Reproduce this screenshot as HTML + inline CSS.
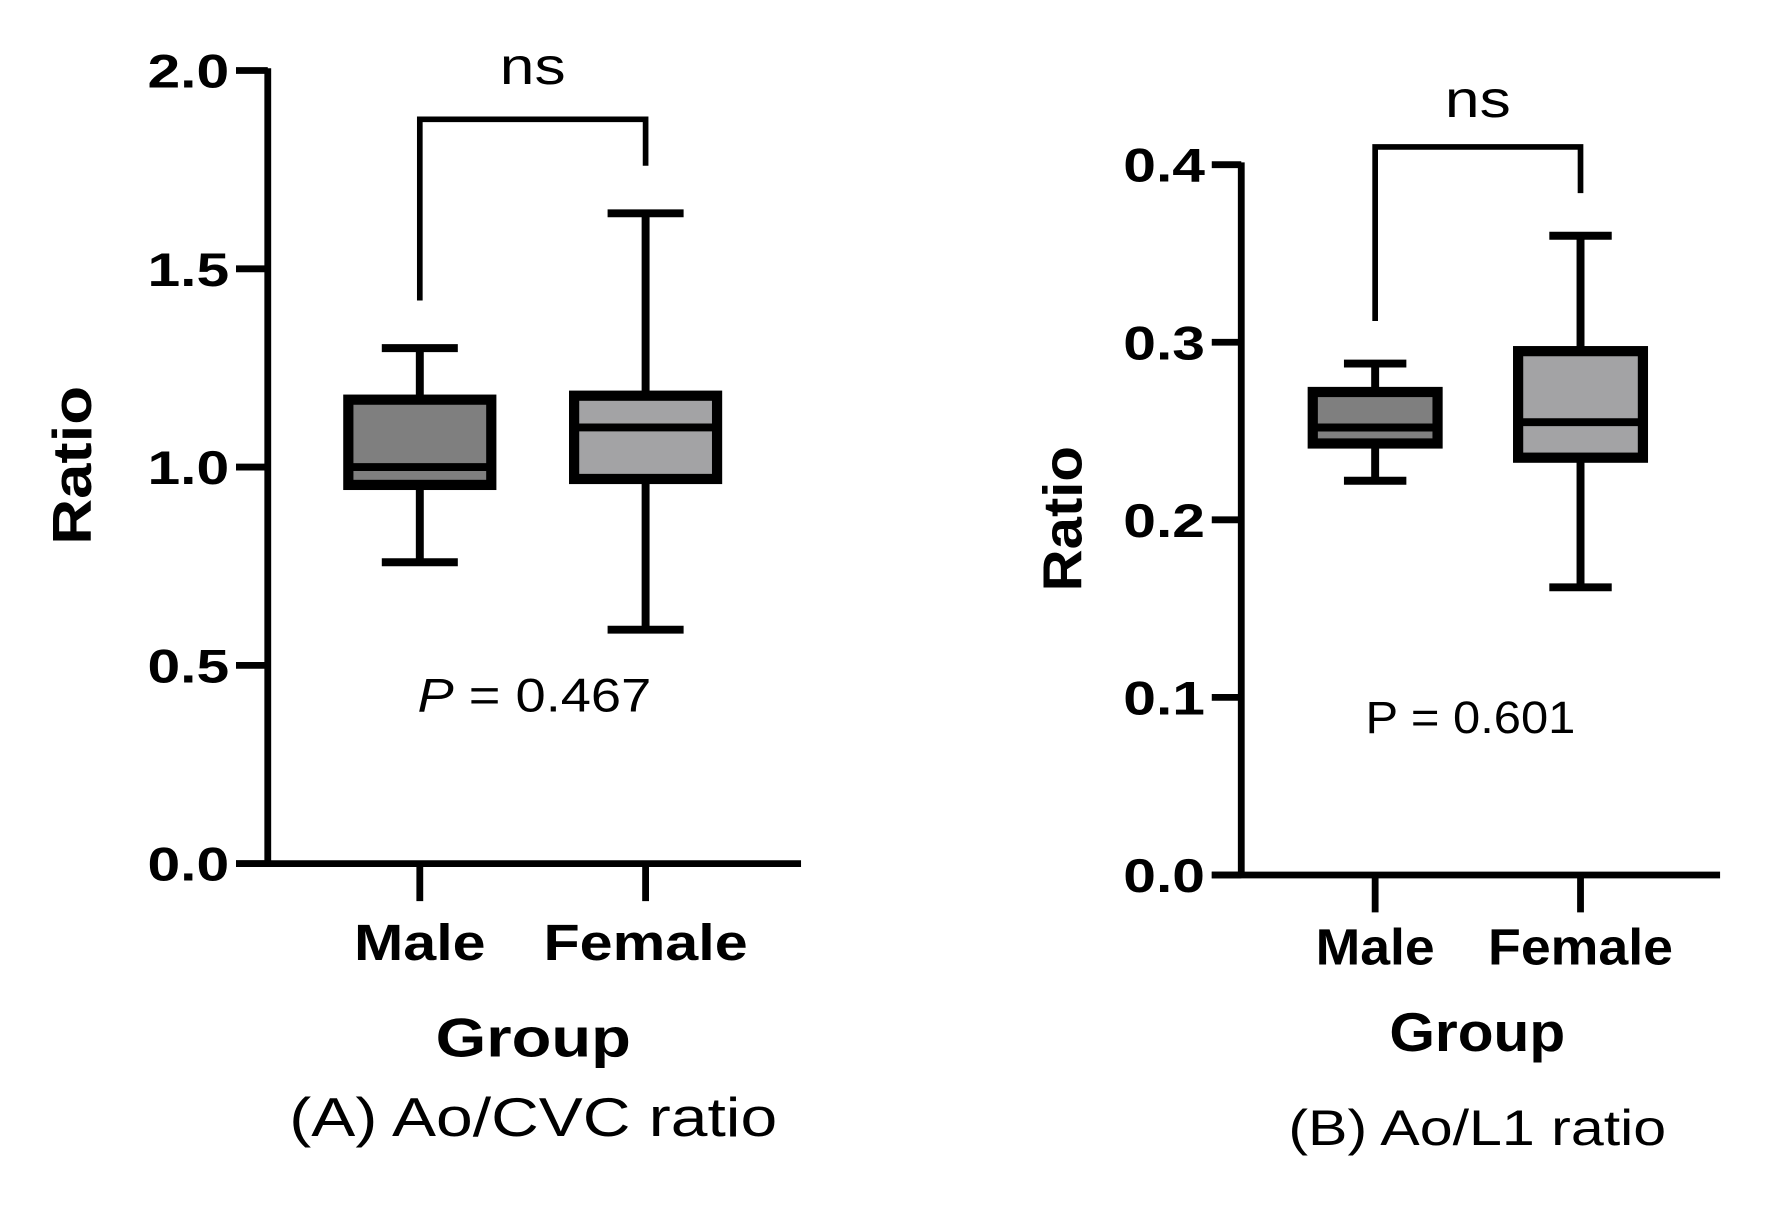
<!DOCTYPE html>
<html><head><meta charset="utf-8"><style>
html,body{margin:0;padding:0;background:#fff;}
svg{display:block;font-family:"Liberation Sans",Arial,sans-serif;}
</style></head><body>
<svg id="chart" width="1770" height="1211" viewBox="0 0 1560 1067" xmlns="http://www.w3.org/2000/svg">
<rect width="1560" height="1067" fill="#fff"/>
</svg>
<script>
// Panel A data
const groupsA = ["Male", "Female"];
const minA = [0.76, 0.59];
const q1A = [0.955, 0.97];
const medA = [1.0, 1.10];
const q3A = [1.17, 1.18];
const maxA = [1.30, 1.64];
const ticksA = [0.0, 0.5, 1.0, 1.5, 2.0];
const tickLabelsA = ["0.0", "0.5", "1.0", "1.5", "2.0"];
const bracketA = [1.42, 1.877, 1.76];
// Panel B data
const groupsB = ["Male", "Female"];
const minB = [0.222, 0.162];
const q1B = [0.243, 0.235];
const medB = [0.252, 0.255];
const q3B = [0.272, 0.295];
const maxB = [0.288, 0.360];
const ticksB = [0.0, 0.1, 0.2, 0.3, 0.4];
const tickLabelsB = ["0.0", "0.1", "0.2", "0.3", "0.4"];
const bracketB = [0.312, 0.41, 0.384];
const fills = ["#7f7f7f", "#a3a3a5"];

const svg = document.getElementById('chart');
const NS = "http://www.w3.org/2000/svg";
function mk(tag, attrs, name, parent) {
  const e = document.createElementNS(NS, tag);
  for (const k in attrs) e.setAttribute(k, attrs[k]);
  
  
  (parent || svg).appendChild(e);
  return e;
}
function txt(x, y, s, size, weight, name, anchor, extra, len) {
  const a = Object.assign({x: x, y: y, 'font-size': size, 'font-weight': weight, 'text-anchor': anchor || 'middle', fill: '#000'}, extra || {});
  if (len) { a.textLength = len; a.lengthAdjust = 'spacingAndGlyphs'; }
  const t = mk('text', a, name);
  t.textContent = s;
  return t;
}

function panel(p) {
  const g = mk('g', {}, p.id);
  const y = v => p.y0 - (v / p.ymax) * (p.y0 - p.yTop);
  const lw = 6;
  mk('line', {x1: p.ax, y1: y(p.ymax) - 2, x2: p.ax, y2: p.y0 + 2, stroke: '#000', 'stroke-width': lw}, 'y-axis-line', g);
  mk('line', {x1: p.tickL, y1: p.y0, x2: p.axEnd, y2: p.y0, stroke: '#000', 'stroke-width': lw}, 'x-axis-line', g);
  p.ticks.forEach((t, i) => {
    mk('line', {x1: p.tickL, y1: y(t), x2: p.ax, y2: y(t), stroke: '#000', 'stroke-width': lw}, 'y-tick', g);
    txt(p.tickL - 6, y(t) + 15, p.tickLabels[i], 42, 'bold', 'y-tick-label', 'end', null, 72);
  });
  p.groups.forEach((name, i) => {
    const cx = p.xs[i];
    mk('line', {x1: cx, y1: p.y0, x2: cx, y2: p.y0 + 33, stroke: '#000', 'stroke-width': lw}, 'x-tick', g);
    txt(cx, p.labelY, name, 45, 'bold', 'x-tick-label', 'middle', null, p.labelLen[i]);
    const bw = p.bw, cw = p.cw;
    mk('line', {x1: cx, y1: y(p.max[i]), x2: cx, y2: y(p.min[i]), stroke: '#000', 'stroke-width': 7}, 'whisker-' + name.toLowerCase(), g);
    mk('line', {x1: cx - cw / 2, y1: y(p.max[i]), x2: cx + cw / 2, y2: y(p.max[i]), stroke: '#000', 'stroke-width': 7}, 'whisker-cap-max', g);
    mk('line', {x1: cx - cw / 2, y1: y(p.min[i]), x2: cx + cw / 2, y2: y(p.min[i]), stroke: '#000', 'stroke-width': 7}, 'whisker-cap-min', g);
    mk('rect', {x: cx - bw / 2, y: y(p.q3[i]), width: bw, height: y(p.q1[i]) - y(p.q3[i]), fill: fills[i], stroke: '#000', 'stroke-width': 9}, 'box-' + name.toLowerCase(), g);
    mk('line', {x1: cx - bw / 2, y1: y(p.med[i]), x2: cx + bw / 2, y2: y(p.med[i]), stroke: '#000', 'stroke-width': 7}, 'median-' + name.toLowerCase(), g);
  });
  const b = p.bracket;
  mk('polyline', {points: `${p.xs[0]},${y(b[0])} ${p.xs[0]},${y(b[1])} ${p.xs[1]},${y(b[1])} ${p.xs[1]},${y(b[2])}`, fill: 'none', stroke: '#000', 'stroke-width': 5}, 'significance-bracket', g);
  txt((p.xs[0] + p.xs[1]) / 2, p.nsY, 'ns', 46, 'normal', 'significance-label', 'middle', null, 58);
  txt(p.ratioX, p.ratioY, 'Ratio', 48, 'bold', 'y-axis-title', 'middle', {transform: `rotate(-90 ${p.ratioX} ${p.ratioY})`}, p.ratioLen);
  txt(p.groupX, p.groupY, 'Group', 48, 'bold', 'x-axis-title', 'middle', null, p.groupLen);
  txt(p.groupX, p.capY, p.caption, p.capSize, 'normal', 'panel-caption', 'middle', null, p.capLen);
  return y;
}

panel({id: 'panel-a', groups: groupsA, min: minA, q1: q1A, med: medA, q3: q3A, max: maxA, ticks: ticksA, tickLabels: tickLabelsA, bracket: bracketA,
  ymax: 2.0, y0: 761, yTop: 62, ax: 236, axEnd: 706, tickL: 208, xs: [370, 569], bw: 126, cw: 67, labelY: 846, labelLen: [116, 180],
  nsY: 74, ratioX: 80, ratioY: 410, ratioLen: 140, groupX: 470, groupY: 931, groupLen: 172, capY: 1001, capSize: 48, capLen: 430, caption: '(A) Ao/CVC ratio'});
const pa = txt(471, 627, '', 42, 'normal', 'p-value-a', 'middle', null, 206);
const it = document.createElementNS(NS, 'tspan'); it.setAttribute('font-style', 'italic'); it.textContent = 'P'; pa.appendChild(it);
pa.appendChild(document.createTextNode(' = 0.467'));

panel({id: 'panel-b', groups: groupsB, min: minB, q1: q1B, med: medB, q3: q3B, max: maxB, ticks: ticksB, tickLabels: tickLabelsB, bracket: bracketB,
  ymax: 0.4, y0: 771, yTop: 145, ax: 1094, axEnd: 1516, tickL: 1068, xs: [1212, 1393], bw: 110, cw: 55, labelY: 850, labelLen: [105, 163],
  nsY: 103, ratioX: 953, ratioY: 457, ratioLen: 128, groupX: 1302, groupY: 926, groupLen: 155, capY: 1009, capSize: 44, capLen: 333, caption: '(B) Ao/L1 ratio'});
txt(1296, 646, 'P = 0.601', 40, 'normal', 'p-value-b', 'middle', null, 185);
</script>
</body></html>
